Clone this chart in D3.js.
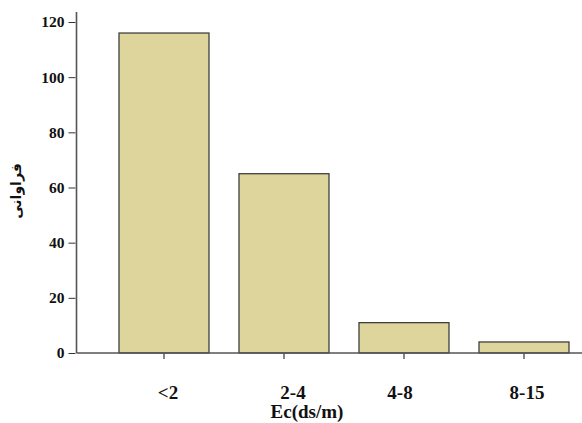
<!DOCTYPE html>
<html><head><meta charset="utf-8">
<script src="https://cdn.jsdelivr.net/npm/d3@7"></script>
<style>body{margin:0;background:#fff} .serif{font-family:"Liberation Serif","Times New Roman","DejaVu Serif",serif !important;font-weight:bold}</style>
</head><body>
<svg id="c" width="582" height="423"></svg>
<script>
const categories = ["<2", "2-4", "4-8", "8-15"];
const values = [116, 65, 11, 4];
const yTicks = [0, 20, 40, 60, 80, 100, 120];
const xTitle = "Ec(ds/m)";
const yTitle = "فراوانی";

const svg = d3.select("#c");
const x0 = 76.5, y0 = 353;
const x = d3.scaleBand().domain(categories).range([104, 584]).paddingInner(0.25).paddingOuter(0.125);
const y = d3.scaleLinear().domain([0, 120]).range([y0, 22]);

// bars
svg.selectAll("rect.bar").data(values).join("rect")
  .attr("class", "bar")
  .attr("x", (d, i) => x(categories[i]))
  .attr("y", d => y(d))
  .attr("width", x.bandwidth())
  .attr("height", d => y0 - y(d))
  .attr("fill", "#ddd59c")
  .attr("stroke", "#3f3f3f")
  .attr("stroke-width", 1.3);

// y axis
const ya = svg.append("g").attr("transform", `translate(${x0},0)`)
  .call(d3.axisLeft(y).tickValues(yTicks).tickSize(9).tickPadding(3));
ya.attr("font-family", null);
ya.select(".domain").remove();
ya.append("line").attr("x1", 0).attr("x2", 0).attr("y1", 12).attr("y2", y0).attr("stroke", "#555").attr("stroke-width", 1.6);
ya.selectAll(".tick line").attr("stroke", "#333").attr("x2", -8).attr("x1", -1);
ya.selectAll(".tick text").attr("class", "serif").style("font-size", "15.5px").attr("fill", "#111");

// x axis
const nudge = [4, 9, -4, 3];
const xa = svg.append("g").attr("transform", `translate(0,${y0})`)
  .call(d3.axisBottom(x).tickSize(6));
xa.attr("font-family", null);
xa.select(".domain").remove();
xa.append("line").attr("x1", x0).attr("x2", 582).attr("y1", 0).attr("y2", 0).attr("stroke", "#555").attr("stroke-width", 1.6);
xa.selectAll(".tick line").attr("stroke", "#444").attr("stroke-width", 1.3);
xa.selectAll(".tick text").attr("class", "serif").style("font-size", "19px").attr("fill", "#111")
  .attr("y", 46).attr("dy", null).attr("dx", (d, i) => nudge[i]);

// titles
svg.append("text").attr("class", "serif").attr("x", 307).attr("y", 418).attr("text-anchor", "middle")
  .style("font-size", "19px").attr("fill", "#111")
  .text(xTitle);
svg.append("text").attr("transform", "translate(21,191) rotate(-90)").attr("text-anchor", "middle")
  .attr("font-family", "DejaVu Sans").attr("font-weight", "bold").attr("font-size", 14).attr("fill", "#111")
  .text(yTitle);
</script>
</body></html>
